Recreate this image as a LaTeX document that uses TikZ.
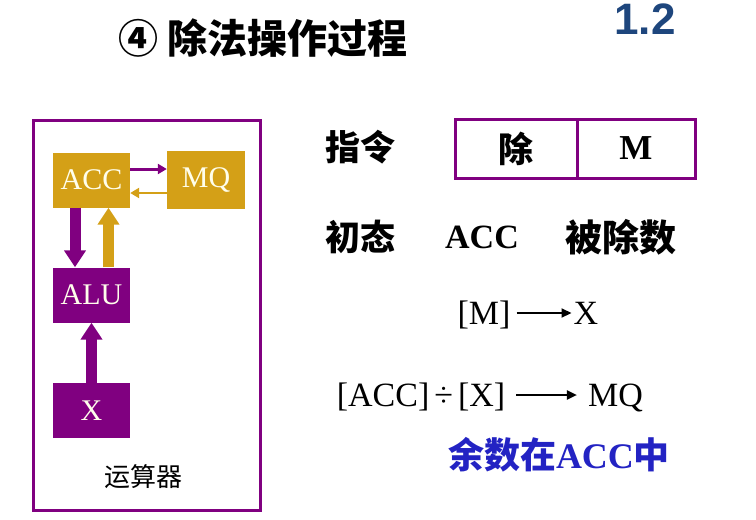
\documentclass[tikz,border=0pt]{standalone}
\usepackage{fontspec}
\setmainfont{Liberation Serif}
\newfontfamily\cjk{Noto Sans CJK SC}
\newfontfamily\pagefont{Liberation Sans}
\usetikzlibrary{arrows.meta, positioning}
\definecolor{purp}{RGB}{128,0,128}
\definecolor{gold}{RGB}{212,160,23}
\definecolor{numblue}{RGB}{30,70,125}
\definecolor{noteblue}{RGB}{35,35,195}

\begin{document}
\begin{tikzpicture}[x=1pt, y=-1pt,
    reg/.style={minimum width=77pt, minimum height=55pt, inner sep=0pt, text=white!92!yellow, font=\fontsize{30}{30}\selectfont},
    bigarrow/.style={line width=11pt, -{Triangle[width=21pt,length=17pt]}},
    thinarrow/.style={line width=3pt, -{Triangle[width=10pt,length=9pt]}},
    field/.style={draw=purp, line width=3pt, minimum height=59pt, outer sep=0pt, inner sep=0pt},
    cn/.style={font=\cjk\bfseries\fontsize{35}{38}\selectfont, inner sep=2pt},
    en/.style={font=\fontsize{34}{36}\selectfont, inner sep=2pt, text height=30pt, text depth=8pt},
    textarrow/.style={line width=2pt, -{Triangle[width=9pt,length=10pt]}}
]
\useasboundingbox (0,0) rectangle (756,520);

% heading
\node[font=\cjk\bfseries\fontsize{40}{42}\selectfont] (title) at (263,38) {④ 除法操作过程};
\node[font=\pagefont\bfseries\fontsize{44}{46}\selectfont, text=numblue, anchor=base] (page) at (645,34) {1.2};

% arithmetic unit
\draw[purp, line width=3pt] (33,120) rectangle (260,510);
\node[reg, fill=gold] (acc) at (91.5,180) {ACC};
\node[reg, fill=gold, minimum width=78pt, minimum height=58pt] (mq) at (206,180) {MQ};
\node[reg, fill=purp] (alu) at (91.5,295) {ALU};
\node[reg, fill=purp] (xreg) at (91.5,410.5) {X};
\node[font=\cjk\fontsize{26}{28}\selectfont] (unitname) at (143,477) {运算器};

\draw[thinarrow, purp] ([yshift=11pt]acc.east) -- ([yshift=11pt]mq.west);
\draw[thinarrow, gold, line width=2.5pt] ([yshift=-13pt]mq.west) -- ([yshift=-13pt]acc.east);
\draw[bigarrow, purp] ([xshift=-16.5pt]acc.south) -- ([xshift=-16.5pt]alu.north);
\draw[bigarrow, gold] ([xshift=17pt]alu.north) -- ([xshift=17pt]acc.south);
\draw[bigarrow, purp] (xreg.north) -- (alu.south);

% instruction
\node[cn] (instr) at (360,147) {指令};
\node[field, minimum width=122pt, font=\cjk\bfseries\fontsize{35}{38}\selectfont] (op) at (516,148.5) {除};
\node[field, minimum width=118pt, right=0pt of op, font=\bfseries\fontsize{35}{38}\selectfont] (addr) {M};

% initial state
\node[cn] (init) at (360,237) {初态};
\node[en, font=\bfseries\fontsize{34}{36}\selectfont] (accinit) at (482,237) {ACC};
\node[cn, font=\cjk\bfseries\fontsize{37}{38}\selectfont] (dividend) at (621,237) {被除数};

% steps
\node[en] (mload) at (484,313) {[M]};
\node[en] (xdst) at (586,313) {X};
\draw[textarrow, shorten <=4pt] (mload) -- (xdst);

\node[en] (divide) at (421,395) {[ACC]\hspace{5pt}÷\hspace{5pt}[X]};
\node[en] (quot) at (615.5,395) {MQ};
\draw[textarrow, shorten <=9pt, shorten >=9pt] (divide) -- (quot);

\node[font=\bfseries\fontsize{36}{38}\selectfont, text=noteblue] (rem) at (559,455) {{\cjk 余数在}ACC{\cjk 中}};

\end{tikzpicture}
\end{document}
